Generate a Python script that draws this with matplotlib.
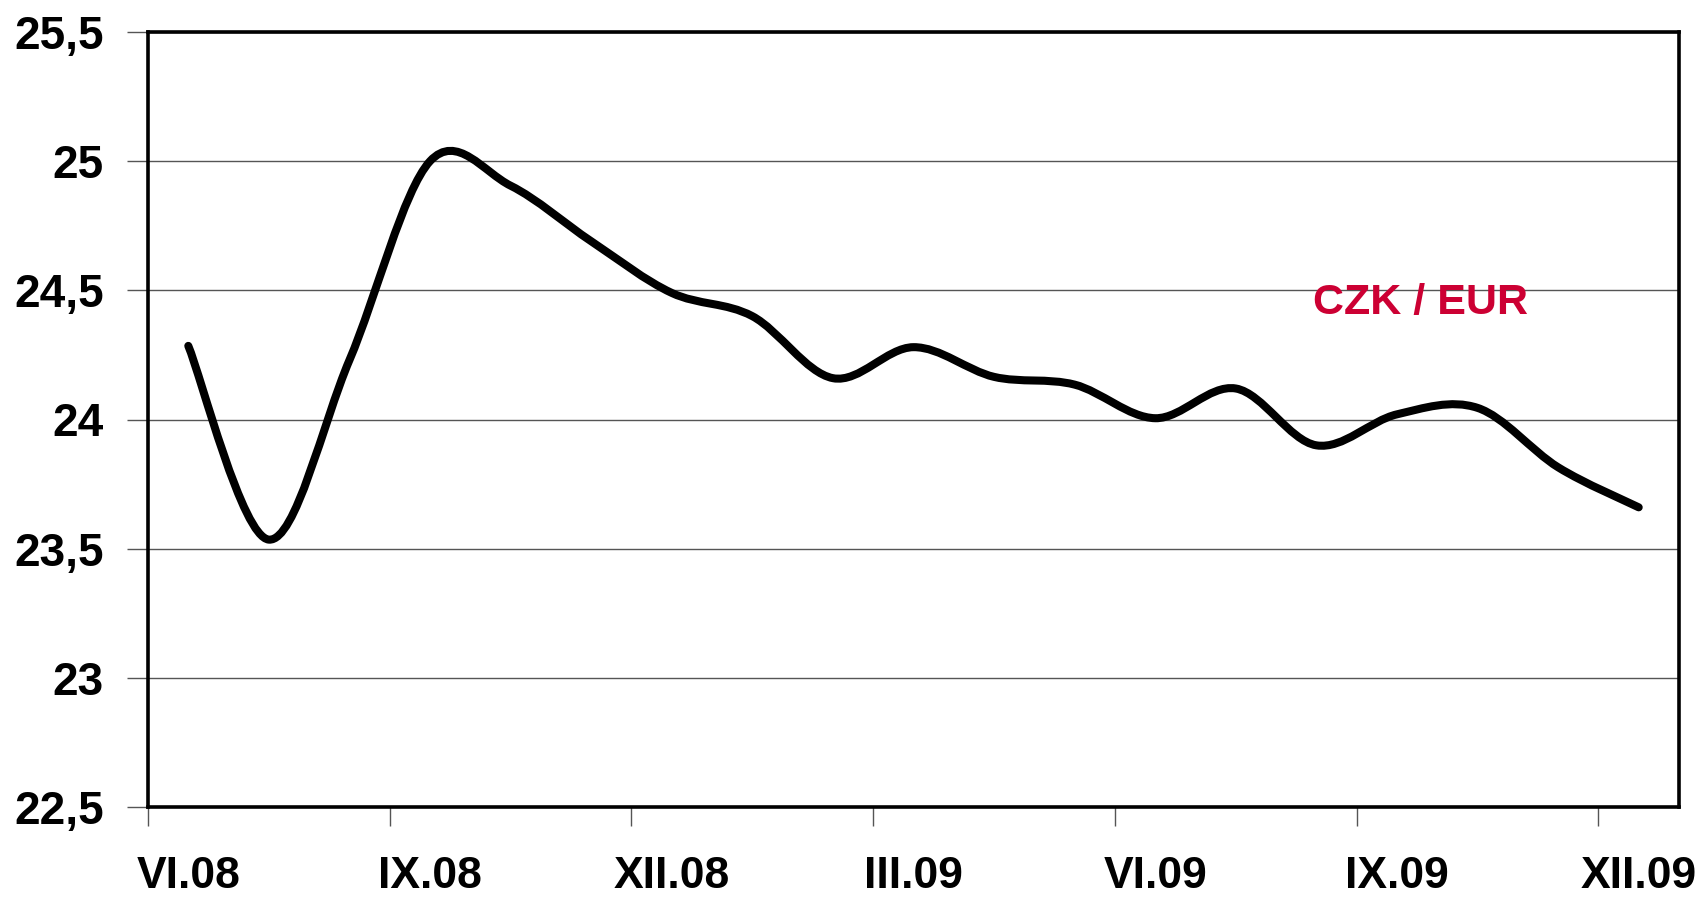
import matplotlib

matplotlib.use("Agg")
import matplotlib.pyplot as plt
from matplotlib.path import Path
from matplotlib.patches import PathPatch

# monthly values, VI.08 .. XII.09
months = ["VI.08", "VII.08", "VIII.08", "IX.08", "X.08", "XI.08", "XII.08",
          "I.09", "II.09", "III.09", "IV.09", "V.09", "VI.09", "VII.09",
          "VIII.09", "IX.09", "X.09", "XI.09", "XII.09"]
czk_eur = [24.285, 23.535, 24.23, 25.0, 24.905, 24.69, 24.49, 24.40, 24.16,
           24.28, 24.165, 24.135, 24.005, 24.12, 23.90, 24.02, 24.045, 23.815,
           23.66]
label_months = ["VI.08", "IX.08", "XII.08", "III.09", "VI.09", "IX.09", "XII.09"]
y_ticks = [22.5, 23, 23.5, 24, 24.5, 25, 25.5]
y_labels = ["22,5", "23", "23,5", "24", "24,5", "25", "25,5"]
series_name = "CZK / EUR"


def smooth_path(xs, ys):
    # spreadsheet-style smoothed line: cubic bezier through every point
    n = len(xs)
    verts = [(xs[0], ys[0])]
    codes = [Path.MOVETO]
    for i in range(n - 1):
        i0 = max(i - 1, 0)
        i3 = min(i + 2, n - 1)
        c1 = (xs[i] + (xs[i + 1] - xs[i0]) / 6, ys[i] + (ys[i + 1] - ys[i0]) / 6)
        c2 = (xs[i + 1] - (xs[i3] - xs[i]) / 6, ys[i + 1] - (ys[i3] - ys[i]) / 6)
        verts += [c1, c2, (xs[i + 1], ys[i + 1])]
        codes += [Path.CURVE4] * 3
    return Path(verts, codes)


font = ["Liberation Sans", "Arial", "DejaVu Sans"]

fig = plt.figure(figsize=(17.08, 8.98), dpi=100)
ax = fig.add_axes([148 / 1708, 1 - 807 / 898, (1679 - 148) / 1708, (807 - 32) / 898])

xs = [i + 0.5 for i in range(len(czk_eur))]
ax.add_patch(PathPatch(smooth_path(xs, czk_eur), facecolor="none", edgecolor="black",
                       linewidth=5.8, capstyle="round", joinstyle="round", zorder=3))

ax.set_xlim(0, len(months))
ax.set_ylim(22.5, 25.5)

ax.set_yticks(y_ticks)
ax.set_yticklabels(y_labels, fontsize=33, fontweight="bold", family=font)
ax.yaxis.grid(True, color="#555555", linewidth=1.0)
ax.set_axisbelow(True)

label_pos = [months.index(m) for m in label_months]
ax.set_xticks(label_pos)
ax.set_xticklabels([])
ax.set_xticks([p + 0.5 for p in label_pos], minor=True)
ax.set_xticklabels(label_months, minor=True, fontsize=32, fontweight="bold", family=font)

ax.tick_params(axis="y", length=15, width=1, color="#555555", pad=17)
ax.tick_params(axis="x", which="major", length=14, width=1, color="#555555")
ax.tick_params(axis="x", which="minor", length=0, pad=35)

for side in ["left", "right", "top", "bottom"]:
    ax.spines[side].set_linewidth(2.6)
    ax.spines[side].set_color("black")

ax.text(15.79, 24.45, series_name, color="#cc0033", fontsize=31, fontweight="bold",
        family=font, ha="center", va="center")

fig.savefig("out.png", dpi=100)
